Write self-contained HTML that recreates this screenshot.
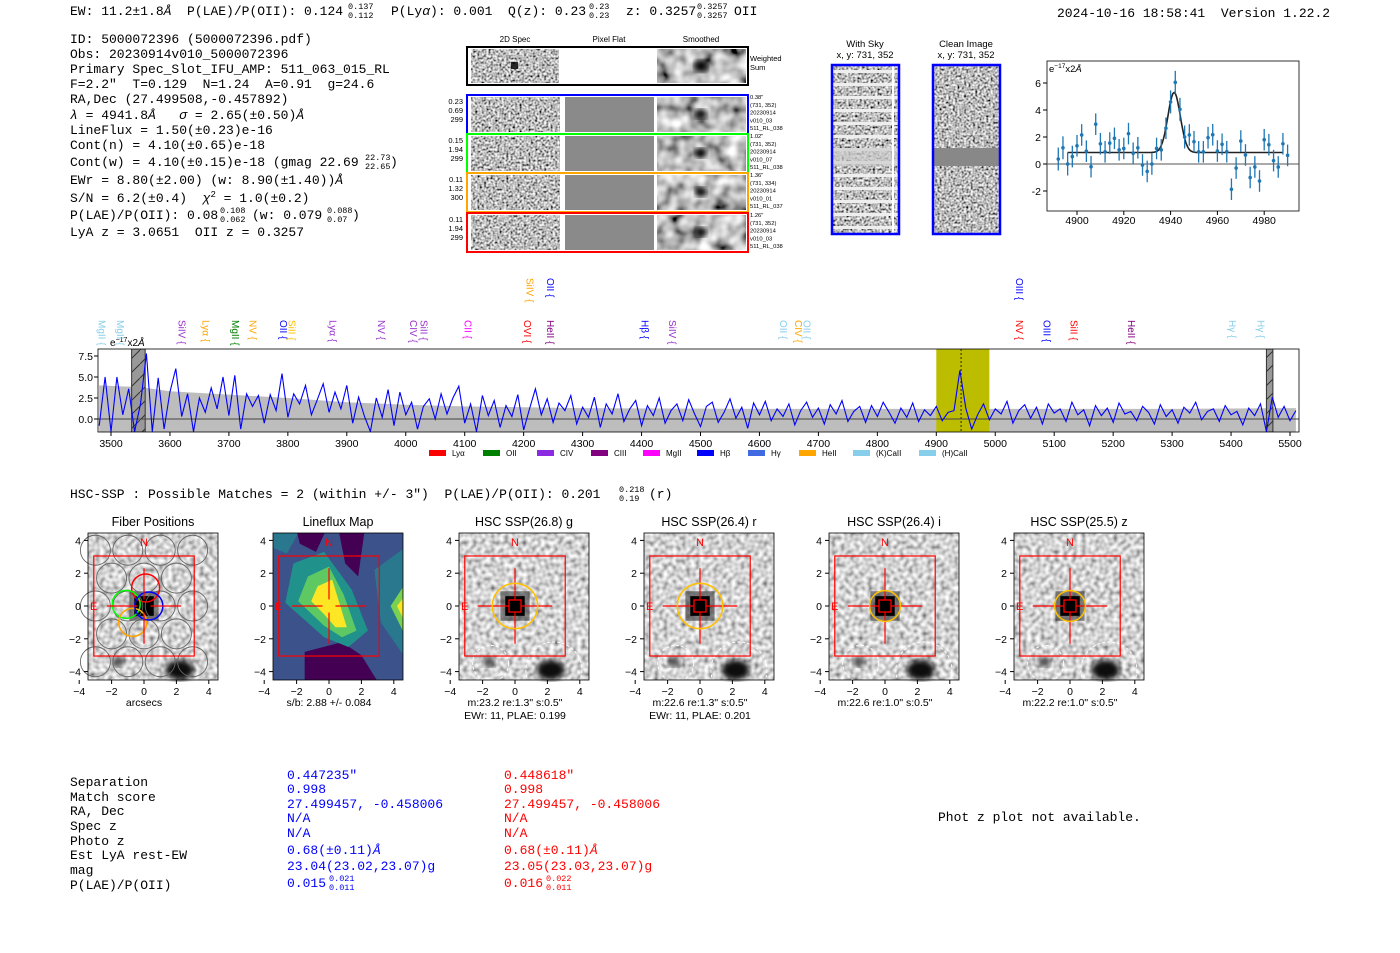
<!DOCTYPE html>
<html><head><meta charset="utf-8">
<style>
body{margin:0;background:#fff;}
svg{display:block;font-family:"Liberation Sans",sans-serif;}
.mono{font-family:"Liberation Mono",monospace;font-size:13px;fill:#000;white-space:pre;}
.sm{font-size:8.5px;}
.tick{font-size:10.5px;fill:#000;}
</style></head><body>
<svg id="fig" width="1400" height="953" viewBox="0 0 1400 953" xmlns="http://www.w3.org/2000/svg">
<defs>
<filter id="noise" x="0" y="0" width="100%" height="100%"><feTurbulence type="fractalNoise" baseFrequency="0.45" numOctaves="1" seed="4"/><feColorMatrix type="matrix" values="2 0 0 0 -0.5 2 0 0 0 -0.5 2 0 0 0 -0.5 0 0 0 0 1"/></filter>
<filter id="noise2" x="0" y="0" width="100%" height="100%"><feTurbulence type="fractalNoise" baseFrequency="0.22" numOctaves="1" seed="9"/><feColorMatrix type="matrix" values="1.5 0 0 0 -0.15 1.5 0 0 0 -0.15 1.5 0 0 0 -0.15 0 0 0 0 1"/></filter>
<filter id="smooth" x="0" y="0" width="100%" height="100%"><feTurbulence type="fractalNoise" baseFrequency="0.07" numOctaves="2" seed="2"/><feColorMatrix type="matrix" values="1.6 0 0 0 -0.3 1.6 0 0 0 -0.3 1.6 0 0 0 -0.3 0 0 0 0 1"/></filter>
<filter id="blur3"><feGaussianBlur stdDeviation="3"/></filter>
<pattern id="hatch" width="14" height="14" patternUnits="userSpaceOnUse"><rect width="14" height="14" fill="#999"/><path d="M0 14 L14 0" stroke="#333" stroke-width="1"/></pattern>
<clipPath id="specclip"><rect x="98" y="349" width="1201" height="83"/></clipPath>
</defs>
<rect width="1400" height="953" fill="#fff"/>

<g>
<text class="mono" x="70" y="15">EW: 11.2±1.8<tspan font-style="italic">Å</tspan>  P(LAE)/P(OII): 0.124</text>
<text class="mono sm" x="348" y="9">0.137</text><text class="mono sm" x="348" y="18">0.112</text>
<text class="mono" x="391" y="15">P(Ly<tspan font-style="italic">α</tspan>): 0.001  Q(z): 0.23</text>
<text class="mono sm" x="589" y="9">0.23</text><text class="mono sm" x="589" y="18">0.23</text>
<text class="mono" x="626" y="15">z: 0.3257</text>
<text class="mono sm" x="697" y="9">0.3257</text><text class="mono sm" x="697" y="18">0.3257</text>
<text class="mono" x="734" y="15">OII</text>
<text class="mono" x="1057" y="17">2024-10-16 18:58:41  Version 1.22.2</text>
</g>

<g>
<text class="mono" x="70" y="43">ID: 5000072396 (5000072396.pdf)</text>
<text class="mono" x="70" y="58">Obs: 20230914v010_5000072396</text>
<text class="mono" x="70" y="73">Primary Spec_Slot_IFU_AMP: 511_063_015_RL</text>
<text class="mono" x="70" y="88">F=2.2"  T=0.129  N=1.24  A=0.91  g=24.6</text>
<text class="mono" x="70" y="103">RA,Dec (27.499508,-0.457892)</text>
<text class="mono" x="70" y="119"><tspan font-style="italic">λ</tspan> = 4941.8<tspan font-style="italic">Å</tspan>   <tspan font-style="italic">σ</tspan> = 2.65(±0.50)<tspan font-style="italic">Å</tspan></text>
<text class="mono" x="70" y="134">LineFlux = 1.50(±0.23)e-16</text>
<text class="mono" x="70" y="149">Cont(n) = 4.10(±0.65)e-18</text>
<text class="mono" x="70" y="166">Cont(w) = 4.10(±0.15)e-18 (gmag 22.69</text>
<text class="mono sm" x="365" y="160">22.73</text><text class="mono sm" x="365" y="169">22.65</text>
<text class="mono" x="390" y="166">)</text>
<text class="mono" x="70" y="184">EWr = 8.80(±2.00) (w: 8.90(±1.40))<tspan font-style="italic">Å</tspan></text>
<text class="mono" x="70" y="202">S/N = 6.2(±0.4)  <tspan font-style="italic">χ</tspan><tspan font-size="9" dy="-5">2</tspan><tspan dy="5"> = 1.0(±0.2)</tspan></text>
<text class="mono" x="70" y="219">P(LAE)/P(OII): 0.08</text>
<text class="mono sm" x="220" y="213">0.108</text><text class="mono sm" x="220" y="222">0.062</text>
<text class="mono" x="252" y="219">(w: 0.079</text>
<text class="mono sm" x="327" y="213">0.088</text><text class="mono sm" x="327" y="222">0.07</text>
<text class="mono" x="352" y="219">)</text>
<text class="mono" x="70" y="236">LyA z = 3.0651  OII z = 0.3257</text>
</g>

<g id="spec2d"></g>
<g id="skypanels"></g>
<g id="zoomplot"></g>
<g id="specplot"></g>
<g id="legend"></g>

<text class="mono" x="70" y="498">HSC-SSP : Possible Matches = 2 (within +/- 3")  P(LAE)/P(OII): 0.201</text>
<text class="mono sm" x="619" y="492">0.218</text><text class="mono sm" x="619" y="501">0.19</text>
<text class="mono" x="649" y="498">(r)</text>

<g id="cutouts"></g>

<g>
<text class="mono" x="70" y="786">Separation</text>
<text class="mono" x="70" y="801">Match score</text>
<text class="mono" x="70" y="815">RA, Dec</text>
<text class="mono" x="70" y="830">Spec z</text>
<text class="mono" x="70" y="845">Photo z</text>
<text class="mono" x="70" y="859">Est LyA rest-EW</text>
<text class="mono" x="70" y="874">mag</text>
<text class="mono" x="70" y="889">P(LAE)/P(OII)</text>
<text class="mono" x="287" y="779" style="fill:#00f">0.447235"</text>
<text class="mono" x="287" y="793" style="fill:#00f">0.998</text>
<text class="mono" x="287" y="808" style="fill:#00f">27.499457, -0.458006</text>
<text class="mono" x="287" y="822" style="fill:#00f">N/A</text>
<text class="mono" x="287" y="837" style="fill:#00f">N/A</text>
<text class="mono" x="287" y="854" style="fill:#00f">0.68(±0.11)<tspan font-style="italic">Å</tspan></text>
<text class="mono" x="287" y="870" style="fill:#00f">23.04(23.02,23.07)g</text>
<text class="mono" x="287" y="887" style="fill:#00f">0.015</text>
<text class="mono sm" x="329" y="881" style="fill:#00f">0.021</text><text class="mono sm" x="329" y="890" style="fill:#00f">0.011</text>
<text class="mono" x="504" y="779" style="fill:#f00">0.448618"</text>
<text class="mono" x="504" y="793" style="fill:#f00">0.998</text>
<text class="mono" x="504" y="808" style="fill:#f00">27.499457, -0.458006</text>
<text class="mono" x="504" y="822" style="fill:#f00">N/A</text>
<text class="mono" x="504" y="837" style="fill:#f00">N/A</text>
<text class="mono" x="504" y="854" style="fill:#f00">0.68(±0.11)<tspan font-style="italic">Å</tspan></text>
<text class="mono" x="504" y="870" style="fill:#f00">23.05(23.03,23.07)g</text>
<text class="mono" x="504" y="887" style="fill:#f00">0.016</text>
<text class="mono sm" x="546" y="881" style="fill:#f00">0.022</text><text class="mono sm" x="546" y="890" style="fill:#f00">0.011</text>
<text class="mono" x="938" y="821">Phot z plot not available.</text>
</g>
</svg>

<script>
// ---------- data ----------
const fitWaves = [4892,4894,4896,4898,4900,4902,4904,4906,4908,4910,4912,4914,4916,4918,4920,4922,4924,4926,4928,4930,4932,4934,4936,4938,4940,4942,4944,4946,4948,4950,4952,4954,4956,4958,4960,4962,4964,4966,4968,4970,4972,4974,4976,4978,4980,4982,4984,4986,4988,4990];
const fitFlux = [0.37,1.2,0,0.55,1.35,2.15,0.95,-0.2,2.95,1.5,0.9,1.55,1.9,1.05,1.15,2.25,0.8,1.2,-0.07,-0.55,0,1.15,1.05,2.65,4.6,6.05,4.05,2.0,2.15,1.65,0.9,0.9,1.95,2.17,0.96,1.46,0.91,-1.87,-0.3,1.7,0.67,-1.0,-0.22,-1.26,1.8,1.43,0.25,-0.22,1.5,0.64];
const fitErr = [0.85,0.85,0.85,0.8,0.8,0.8,0.8,0.8,0.8,0.8,0.8,0.8,0.8,0.8,0.8,0.8,0.8,0.8,0.8,0.8,0.8,0.8,0.8,0.8,0.85,0.85,0.85,0.85,0.8,0.8,0.8,0.8,0.8,0.8,0.8,0.8,0.8,0.8,0.8,0.8,0.8,0.8,0.8,0.8,0.8,0.8,0.8,0.8,0.8,0.8];
const fitParams = [0.85, 4.45, 4941.5, 2.65]; // baseline, amplitude, center, sigma
const fitRange = [4896, 4988];
const fitXTicks = [4900,4920,4940,4960,4980];
const fitYTicks = [-2,0,2,4,6];

const specStart = 3480, specStep = 10;
const specFlux = [-0.8,5.0,-1.5,5.0,0.5,3.6,-1.5,1.8,7.8,-1.5,
4.9,-1.2,3.2,6.0,0.3,3.0,-1.5,2.5,0.8,3.7,
1.2,5.0,0.4,5.2,-1.2,3.0,1.5,2.8,-0.5,2.9,
1.0,5.4,0.2,3.0,1.8,4.0,0.5,2.3,4.2,0.8,
3.2,1.2,4.0,-0.5,2.6,0.3,-1.5,2.5,0.2,3.5,
-0.8,3.2,0.5,2.0,-1.2,1.5,2.4,0.0,3.0,0.6,
2.5,3.9,-0.5,1.8,-1.5,2.8,0.4,2.2,-1.0,1.6,
0.3,2.9,-1.3,1.2,3.6,0.5,2.4,-0.4,1.9,1.0,
2.8,-0.6,1.4,0.2,2.6,-1.0,1.8,0.6,3.0,-0.3,
1.2,2.2,-0.8,1.6,0.4,2.5,-0.5,1.0,1.8,-0.2,
2.3,0.6,-0.9,1.5,2.0,-0.4,0.8,2.4,0.1,1.4,
-1.1,1.9,0.5,2.1,-0.2,1.2,0.3,1.8,-0.7,1.0,
2.0,0.2,1.3,-0.6,1.7,0.6,2.2,-0.3,0.9,1.5,
-0.4,1.6,0.3,2.0,0.8,-0.5,1.3,0.2,1.9,-0.3,
1.1,0.4,1.5,-0.2,0.8,1.0,5.8,1.3,-1.2,0.5,
1.8,-0.1,1.2,0.6,2.1,-0.5,1.0,1.7,0.1,1.4,
-0.6,1.8,0.7,1.2,-0.3,2.0,0.5,1.1,-0.8,1.6,
0.4,1.3,-0.4,1.9,0.6,0.9,-0.2,1.5,0.8,-0.6,
1.7,0.3,1.1,-0.5,1.4,0.7,2.0,-0.1,0.9,1.2,
-0.3,1.6,0.5,0.9,-0.7,1.3,0.4,1.8,-1.5,2.6,
0.2,1.5,-0.2,1.0];
const errWaves = [3480,3550,3600,3700,3800,3900,4000,4100,4300,4600,5000,5300,5510];
const errVals = [4.0,3.8,3.3,2.9,2.5,2.0,1.7,1.5,1.3,1.2,1.2,1.2,1.3];
const specXTicks = [3500,3600,3700,3800,3900,4000,4100,4200,4300,4400,4500,4600,4700,4800,4900,5000,5100,5200,5300,5400,5500];
const specYTicks = [0,2.5,5,7.5];
const lineLabels = [["MgII",3484,"#87ceeb",0],["MgII",3515,"#87ceeb",0],["SiIV",3620,"#9932cc",0],["Lyα",3660,"#ffa500",0],["MgII",3710,"#008000",0],["NV",3740,"#ffa500",0],["OII",3792,"#0000ff",0],["SiII",3806,"#ffc000",0],["Lyα",3876,"#9932cc",0],["NV",3958,"#9932cc",0],["CIV",4012,"#9932cc",0],["SiII",4030,"#9932cc",0],["CII",4105,"#ff00ff",0],["OVI",4206,"#ff0000",0],["HeII",4245,"#800080",0],["SiIV",4210,"#ffa500",1],["OII",4245,"#0000ff",1],["Hβ",4405,"#0000ff",0],["SiIV",4452,"#9932cc",0],["OII",4640,"#87ceeb",0],["CIV",4665,"#ffa500",0],["OII",4680,"#87ceeb",0],["NV",5040,"#ff0000",0],["OIII",5087,"#0000ff",0],["SiII",5133,"#ff0000",0],["HeII",5230,"#800080",0],["Hγ",5402,"#87ceeb",0],["Hγ",5450,"#87ceeb",0],["OIII",5040,"#0000ff",1]];
const legendNames = ["Lyα","OII","CIV","CIII","MgII","Hβ","Hγ","HeII","(K)CaII","(H)CaII"];
const legendColors = ["#ff0000","#008000","#8a2be2","#800080","#ff00ff","#0000ff","#4169e1","#ffa500","#87ceeb","#87ceeb"];
const cutTitles = ["Fiber Positions","Lineflux Map","HSC SSP(26.8) g","HSC SSP(26.4) r","HSC SSP(26.4) i","HSC SSP(25.5) z"];
const cutLine1 = ["arcsecs","s/b: 2.88 +/- 0.084","m:23.2  re:1.3\"  s:0.5\"","m:22.6  re:1.3\"  s:0.5\"","m:22.6  re:1.0\"  s:0.5\"","m:22.2  re:1.0\"  s:0.5\""];
const cutLine2 = ["","","EWr: 11, PLAE: 0.199","EWr: 11, PLAE: 0.201","",""];
const cutRadius = [0,0,1.4,1.4,0.95,0.95];
const cutTicks = [-4,-2,0,2,4];

// ---------- helpers ----------
const NS="http://www.w3.org/2000/svg";
function mk(parent,tag,attrs,txt){const e=document.createElementNS(NS,tag);for(const k in attrs)e.setAttribute(k,attrs[k]);if(txt!==undefined)e.textContent=txt;parent.appendChild(e);return e;}

// ---------- 2D spectra ----------
(function(){
const g=document.getElementById('spec2d');
[["2D Spec",515],["Pixel Flat",609],["Smoothed",701]].forEach(h=>{const t=mk(g,'text',{x:h[1],y:42,'font-size':8,'text-anchor':'middle'},h[0]);

});
const top=mk(g,'rect',{x:467,y:47,width:281,height:38,fill:'#fff',stroke:'#000','stroke-width':2});


mk(g,'rect',{x:471,y:49,width:88,height:34,filter:'url(#noise)'});
mk(g,'rect',{x:657,y:49,width:89,height:34,filter:'url(#smooth)'});
mk(g,'rect',{x:511,y:62,width:7,height:7,fill:'#000',opacity:0.8});
mk(g,'ellipse',{cx:701,cy:66,rx:7,ry:6,fill:'#000',filter:'url(#blur3)'});
mk(g,'text',{x:750,y:61,'font-size':7.5},'Weighted');mk(g,'text',{x:750,y:70,'font-size':7.5},'Sum');
const rows=[[95,'#0000ff',['0.23','0.69','299'],['0.38"','(731, 352)','20230914','v010_03','511_RL_038']],[134,'#00ff00',['0.15','1.94','299'],['1.02"','(731, 352)','20230914','v010_07','511_RL_038']],[173,'#ffa500',['0.11','1.32','300'],['1.36"','(731, 334)','20230914','v010_01','511_RL_037']],[213,'#ff0000',['0.11','1.94','299'],['1.26"','(731, 352)','20230914','v010_03','511_RL_038']]];
rows.forEach(r=>{const y=r[0];
mk(g,'rect',{x:471,y:y+2,width:89,height:35,filter:'url(#noise)'});
mk(g,'rect',{x:565,y:y+2,width:89,height:35,fill:'#8a8a8a'});
mk(g,'rect',{x:657,y:y+2,width:89,height:35,filter:'url(#smooth)'});
mk(g,'ellipse',{cx:701,cy:y+19,rx:6,ry:5,fill:'#000',filter:'url(#blur3)'});
const b=mk(g,'rect',{x:467,y:y,width:281,height:39,fill:'none',stroke:r[1],'stroke-width':2});


r[2].forEach((s,i)=>mk(g,'text',{x:463,y:y+9+i*9,'font-size':7.5,'text-anchor':'end'},s));
r[3].forEach((s,i)=>mk(g,'text',{x:750,y:y+4+i*7.8,'font-size':5.8},s));
});
})();

// ---------- sky panels ----------
(function(){
const g=document.getElementById('skypanels');
mk(g,'text',{x:865,y:47,'font-size':9.5,'text-anchor':'middle'},'With Sky');
mk(g,'text',{x:865,y:58,'font-size':9.5,'text-anchor':'middle'},'x, y: 731, 352');
mk(g,'text',{x:966,y:47,'font-size':9.5,'text-anchor':'middle'},'Clean Image');
mk(g,'text',{x:966,y:58,'font-size':9.5,'text-anchor':'middle'},'x, y: 731, 352');
mk(g,'rect',{x:832,y:65,width:67,height:169,filter:'url(#noise)'});
for(let i=0;i<13;i++){mk(g,'rect',{x:832,y:70+i*13,width:67,height:3,fill:'#eee'});}
mk(g,'rect',{x:832,y:148,width:67,height:18,fill:'#ccc',opacity:0.7});
mk(g,'line',{x1:893,y1:65,x2:893,y2:234,stroke:'#fff','stroke-width':2});
const s=mk(g,'rect',{x:832,y:65,width:67,height:169,fill:'none',stroke:'#0000ff','stroke-width':2.5});


mk(g,'rect',{x:933,y:65,width:67,height:169,filter:'url(#noise)'});
mk(g,'rect',{x:933,y:148,width:67,height:18,fill:'#888'});
const c=mk(g,'rect',{x:933,y:65,width:67,height:169,fill:'none',stroke:'#0000ff','stroke-width':2.5});


})();

// ---------- zoomed line fit ----------
(function(){
const g=document.getElementById('zoomplot');
const X=w=>1077+(w-4900)*2.34, Y=v=>164-v*13.5;
const ax=mk(g,'rect',{x:1047,y:61,width:252,height:150,fill:'none',stroke:'#000','stroke-width':0.8});


mk(g,'line',{x1:1047,y1:Y(0),x2:1299,y2:Y(0),stroke:'#555','stroke-width':1});
fitXTicks.forEach(t=>{mk(g,'line',{x1:X(t),y1:211,x2:X(t),y2:215,stroke:'#000'});mk(g,'text',{x:X(t),y:224,class:'tick','text-anchor':'middle'},t);});
fitYTicks.forEach(t=>{mk(g,'line',{x1:1043,y1:Y(t),x2:1047,y2:Y(t),stroke:'#000'});mk(g,'text',{x:1041,y:Y(t)+4,class:'tick','text-anchor':'end'},t);});
const u=mk(g,'text',{x:1049,y:72,'font-size':9.5});
u.innerHTML='e<tspan font-size="6.5" dy="-4">−17</tspan><tspan dy="4">x2</tspan><tspan font-style="italic">Å</tspan>';
let d='';for(let w=fitRange[0];w<=fitRange[1];w+=0.5){const v=fitParams[0]+fitParams[1]*Math.exp(-0.5*Math.pow((w-fitParams[2])/fitParams[3],2));d+=(d?'L':'M')+X(w).toFixed(1)+' '+Y(v).toFixed(1);}
const f=mk(g,'path',{d:d,fill:'none',stroke:'#222','stroke-width':1.6});


fitWaves.forEach((w,i)=>{
mk(g,'line',{x1:X(w),y1:Y(fitFlux[i]-fitErr[i]),x2:X(w),y2:Y(fitFlux[i]+fitErr[i]),stroke:'#1f77b4','stroke-width':1.3});
const p=mk(g,'circle',{cx:X(w),cy:Y(fitFlux[i]),r:1.8,fill:'#1f77b4'});


});
})();

// ---------- full spectrum ----------
(function(){
const g=document.getElementById('specplot');
const X=w=>111+(w-3500)*0.5895, Y=v=>419-v*8.4;
const cl=mk(g,'g',{'clip-path':'url(#specclip)'});
let d='M'+X(errWaves[0])+' '+Y(-2);errWaves.forEach((w,i)=>{d+='L'+X(w).toFixed(1)+' '+Y(errVals[i]).toFixed(1);});d+='L'+X(errWaves[errWaves.length-1])+' '+Y(-2)+'Z';
const e=mk(cl,'path',{d:d,fill:'#bdbdbd'});


const hl=mk(cl,'rect',{x:X(4900),y:349,width:X(4990)-X(4900),height:83,fill:'#bdbd00'});


mk(cl,'line',{x1:X(4942),y1:349,x2:X(4942),y2:432,stroke:'#000','stroke-dasharray':'2,2','stroke-width':0.8});
mk(cl,'rect',{x:X(3535),y:349,width:X(3558)-X(3535),height:83,fill:'url(#hatch)',stroke:'#333'});
mk(cl,'rect',{x:X(5460),y:349,width:X(5471)-X(5460),height:83,fill:'url(#hatch)',stroke:'#333'});
mk(cl,'line',{x1:98,y1:Y(0),x2:1299,y2:Y(0),stroke:'#444','stroke-width':1});
let p='';specFlux.forEach((v,i)=>{p+=(i?'L':'M')+X(specStart+i*specStep).toFixed(1)+' '+Y(v).toFixed(1);});
const sp=mk(cl,'path',{d:p,fill:'none',stroke:'#0000ff','stroke-width':1.1});


mk(g,'rect',{x:98,y:349,width:1201,height:83,fill:'none',stroke:'#000','stroke-width':0.8});
specXTicks.forEach(t=>{mk(g,'line',{x1:X(t),y1:432,x2:X(t),y2:436,stroke:'#000'});mk(g,'text',{x:X(t),y:447,class:'tick','text-anchor':'middle'},t);});
specYTicks.forEach(t=>{mk(g,'line',{x1:94,y1:Y(t),x2:98,y2:Y(t),stroke:'#000'});mk(g,'text',{x:93,y:Y(t)+4,class:'tick','text-anchor':'end'},t.toFixed(1));});
const u=mk(g,'text',{x:110,y:346,'font-size':10});u.innerHTML='e<tspan font-size="7" dy="-4">−17</tspan><tspan dy="4">x2</tspan><tspan font-style="italic">Å</tspan>';
lineLabels.forEach(l=>{const x=X(l[1]);const y=l[3]?278:320;
const t=mk(g,'text',{x:0,y:0,'font-size':10,fill:l[2],transform:`translate(${x-3},${y}) rotate(90)`},l[0]+' {');

});
})();

// ---------- legend ----------
(function(){
const g=document.getElementById('legend');
const xs=[429,483,537,591,643,697,748,799,853,919];
legendNames.forEach((n,i)=>{
const r=mk(g,'rect',{x:xs[i],y:450,width:17,height:6,fill:legendColors[i]});


mk(g,'text',{x:xs[i]+23,y:456,'font-size':8},n);});
})();

// ---------- cutouts ----------
(function(){
const g=document.getElementById('cutouts');
const origins=[144,329,515,700,885,1070];
origins.forEach((ox,i)=>{
const oy=606,sx=16.2,sy=16.4,L=ox-56,T=533,W=130,H=147;
const X=v=>ox+v*sx,Y=v=>oy-v*sy;
const P=pts=>pts.map(q=>X(q[0]).toFixed(1)+','+Y(q[1]).toFixed(1)).join(' ');
const pg=mk(g,'g',{});


mk(pg,'text',{x:L+W/2,y:526,'font-size':12.5,'text-anchor':'middle'},cutTitles[i]);
if(i===1){
const cp=mk(pg,'clipPath',{id:'lfclip'});mk(cp,'rect',{x:L,y:T,width:W,height:H});
const mg=mk(pg,'g',{'clip-path':'url(#lfclip)'});
mk(mg,'rect',{x:L,y:T,width:W,height:H,fill:'#3b528b'});
mk(mg,'polygon',{points:P([[-3.6,4.6],[-1.8,4.6],[-2.6,3.2],[-3.6,3.6]]),fill:'#2a788e'});
mk(mg,'polygon',{points:P([[-2,4.6],[-0.2,4.6],[-0.8,3.3],[-1.8,3.8]]),fill:'#440154'});
mk(mg,'polygon',{points:P([[0.6,4.6],[2.2,4.6],[1.8,1.8],[1.0,2.6]]),fill:'#440154'});
mk(mg,'polygon',{points:P([[-1.5,-2.8],[0.8,-2.2],[2,-3],[3,-4.6],[-1.5,-4.6]]),fill:'#440154'});
mk(mg,'polygon',{points:P([[-4.6,0.8],[-3.6,-0.5],[-4.6,-2]]),fill:'#440154'});
mk(mg,'polygon',{points:P([[2.8,2.2],[4.6,3.5],[4.6,-3],[3.2,-1]]),fill:'#2a788e'});
mk(mg,'polygon',{points:P([[4.6,1.2],[3.8,0],[4.6,-1.6]]),fill:'#7ad151'});
mk(mg,'polygon',{points:P([[4.6,0.5],[4.2,0],[4.6,-0.8]]),fill:'#fde725'});
mk(mg,'polygon',{points:P([[-2.2,2.6],[-0.3,3.3],[1.4,1.0],[2.4,-1.5],[1.2,-2.5],[-0.3,-1.9],[-2.7,0.2]]),fill:'#21918c'});
mk(mg,'polygon',{points:P([[-1.3,1.8],[0,2.4],[0.9,0.7],[1.7,-1.5],[0.8,-1.9],[-0.3,-1.2],[-1.9,0.3]]),fill:'#5ec962'});
mk(mg,'polygon',{points:P([[-0.7,1.2],[0.2,1.6],[0.7,0],[1.1,-1.3],[0.4,-1.3],[-0.3,-0.5],[-1.1,0.3]]),fill:'#fde725'});
}else{
mk(pg,'rect',{x:L,y:T,width:W,height:H,filter:'url(#noise2)'});
mk(pg,'rect',{x:L,y:T,width:W,height:H,fill:'#fff',opacity:0.15});
mk(pg,'ellipse',{cx:X(2.2),cy:Y(-3.9),rx:14,ry:10,fill:'#111',filter:'url(#blur3)'});
mk(pg,'ellipse',{cx:X(-1.6),cy:Y(-3.4),rx:6,ry:5,fill:'#444',filter:'url(#blur3)'});
mk(pg,'rect',{x:X(-0.9),y:Y(0.9),width:sx*1.8,height:sy*1.8,fill:'#333',opacity:0.6});
mk(pg,'rect',{x:X(-0.6),y:Y(0.6),width:sx*1.2,height:sy*1.2,fill:'#000'});
}
if(i>=2){
mk(pg,'circle',{cx:X(-1.5),cy:Y(-3.5),r:18,fill:'none',stroke:'#fff','stroke-dasharray':'3,2'});
mk(pg,'circle',{cx:X(2.4),cy:Y(-3.9),r:28,fill:'none',stroke:'#fff','stroke-dasharray':'3,2'});
}
if(i===0){
[[-3,0],[-2,1.7],[0,1.7],[2,1.7],[-1,0],[1,0],[3,0],[-2,-1.7],[0,-1.7],[2,-1.7],[-1,3.4],[1,3.4],[-1,-3.4],[1,-3.4],[-3,3.4],[3,3.4],[-3,-3.4],[3,-3.4]].forEach(c=>mk(pg,'circle',{cx:X(c[0]),cy:Y(c[1]),r:15,fill:'none',stroke:'#666','stroke-width':0.9}));
mk(pg,'circle',{cx:X(0.1),cy:Y(1.1),r:14,fill:'none',stroke:'#f00','stroke-width':1.5});
mk(pg,'circle',{cx:X(-1.1),cy:Y(0.1),r:14,fill:'none',stroke:'#0f0','stroke-width':1.5});
mk(pg,'circle',{cx:X(-0.7),cy:Y(-1.0),r:14,fill:'none',stroke:'#ffa500','stroke-width':1.5});
mk(pg,'circle',{cx:X(0.3),cy:Y(0),r:14,fill:'none',stroke:'#00f','stroke-width':1.5});
}
const bx=mk(pg,'rect',{x:X(-3.1),y:Y(3.05),width:sx*6.2,height:sy*6.1,fill:'none',stroke:'#f00','stroke-width':1.2});


mk(pg,'line',{x1:X(-2.3),y1:oy,x2:X(-0.4),y2:oy,stroke:'#f00','stroke-width':1.2});
mk(pg,'line',{x1:X(0.4),y1:oy,x2:X(2.3),y2:oy,stroke:'#f00','stroke-width':1.2});
mk(pg,'line',{x1:ox,y1:Y(2.3),x2:ox,y2:Y(0.4),stroke:'#f00','stroke-width':1.2});
mk(pg,'line',{x1:ox,y1:Y(-0.4),x2:ox,y2:Y(-2.3),stroke:'#f00','stroke-width':1.2});
if(i>=2){
const r=cutRadius[i]*sx;
mk(pg,'circle',{cx:ox,cy:oy,r:r,fill:'none',stroke:'#ffc000','stroke-width':1.5});
mk(pg,'rect',{x:ox-6,y:oy-6,width:12,height:12,fill:'none',stroke:'#f00','stroke-width':1.3});
}
mk(pg,'text',{x:ox,y:546,'font-size':11,fill:'#f00','text-anchor':'middle'},'N');
mk(pg,'text',{x:L+2,y:oy+4,'font-size':11,fill:'#f00'},'E');
mk(pg,'rect',{x:L,y:T,width:W,height:H,fill:'none',stroke:'#000','stroke-width':0.8});
cutTicks.forEach(t=>{
mk(pg,'line',{x1:X(t),y1:T+H,x2:X(t),y2:T+H+4,stroke:'#000'});
mk(pg,'text',{x:X(t),y:T+H+15,class:'tick','text-anchor':'middle'},t<0?'−'+(-t):t);
mk(pg,'line',{x1:L-4,y1:Y(t),x2:L,y2:Y(t),stroke:'#000'});
mk(pg,'text',{x:L-7,y:Y(t)+4,class:'tick','text-anchor':'end'},t<0?'−'+(-t):t);
});
mk(pg,'text',{x:ox,y:706,'font-size':10.5,'text-anchor':'middle'},cutLine1[i]);
if(cutLine2[i])mk(pg,'text',{x:ox,y:719,'font-size':10.5,'text-anchor':'middle'},cutLine2[i]);
});
})();
</script>
</body></html>
